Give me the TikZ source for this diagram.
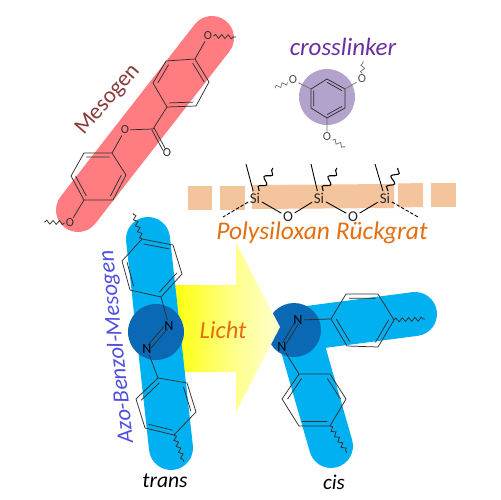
\documentclass[tikz,border=0pt]{standalone}
\usepackage{fontspec}
\setmainfont{Carlito}
\usetikzlibrary{calc,decorations.pathmorphing}
\definecolor{bandred}{HTML}{FF7C80}
\definecolor{bandblue}{HTML}{00B0F0}
\definecolor{darkblob}{HTML}{0A68B4}
\definecolor{purpleblob}{HTML}{B3A2CC}
\definecolor{backbone}{HTML}{F4C49C}
\definecolor{orangetxt}{HTML}{E56E10}
\definecolor{bond}{HTML}{2E2E2E}
\definecolor{mesotxt}{HTML}{8C3B3B}
\definecolor{crosstxt}{HTML}{6B2FA0}
\definecolor{azotxt}{HTML}{4F4FE0}
\tikzset{
  band/.style={line cap=round,line width=.88cm},
  bondline/.style={draw=bond,line width=.42pt},
  wavy/.style={draw=bond,line width=.42pt,decorate,decoration={snake,segment length=3.6pt,amplitude=1.1pt}},
  wavyb/.style={draw=black,line width=.6pt,decorate,decoration={snake,segment length=6.5pt,amplitude=1.9pt}},
  atom/.style={font=\fontsize{7}{7}\selectfont,text=bond,inner sep=.6pt},
  bigatom/.style={font=\fontsize{8.5}{8.5}\selectfont,text=black!85,inner sep=.8pt},
  lbl/.style={inner sep=0pt},
  bbpatch/.style={fill=backbone,draw=none}
}
% name, pattern (1 or 2), six vertices
\newcommand\molring[8]{%
  \coordinate (#1a) at #3; \coordinate (#1b) at #4; \coordinate (#1c) at #5;
  \coordinate (#1d) at #6; \coordinate (#1e) at #7; \coordinate (#1f) at #8;
  \coordinate (#1m) at ($(#1a)!.5!(#1d)$);
  \draw[bondline,line join=round] (#1a)--(#1b)--(#1c)--(#1d)--(#1e)--(#1f)--cycle;
  \ifnum#2=1
    \draw[bondline] ($(#1a)!.17!(#1m)$)--($(#1b)!.17!(#1m)$) ($(#1c)!.17!(#1m)$)--($(#1d)!.17!(#1m)$) ($(#1e)!.17!(#1m)$)--($(#1f)!.17!(#1m)$);
  \else
    \draw[bondline] ($(#1b)!.17!(#1m)$)--($(#1c)!.17!(#1m)$) ($(#1d)!.17!(#1m)$)--($(#1e)!.17!(#1m)$) ($(#1f)!.17!(#1m)$)--($(#1a)!.17!(#1m)$);
  \fi}
\begin{document}
\begin{tikzpicture}[x=.02cm,y=-.02cm]
\useasboundingbox (0,0) rectangle (500,500);
\fill[white] (0,0) rectangle (500,500);

% ---- Mesogen
\draw[band,bandred] (212,38) -- (78,210);
\molring{ma}{2}{(195,59)}{(166,61)}{(153,83)}{(167,107)}{(196,106)}{(209,82)}
\molring{mb}{1}{(112,153)}{(84,153)}{(71,176)}{(84,200)}{(113,200)}{(126,175)}
\node[atom] (mo1) at (208,36) {O};
\node[atom] (mo2) at (125,130) {O};
\node[atom] (mo3) at (167,153) {O};
\node[atom] (mo4) at (70,223) {O};
\coordinate (mc) at (153,129);
\coordinate (mw1) at (236,37);
\coordinate (mw2) at (44,222);
\draw[bondline] (maa)--(mo1) (mad)--(mc) (mc)--(mo2) (mo2)--(mba) (mbd)--(mo4);
\draw[bondline] ($(mc)+(1.2,-.8)$)--($(mo3)+(-1.5,-4)$) ($(mc)+(-1.2,.8)$)--($(mo3)+(-4,-2.5)$);
\draw[wavy] (mo1)--(mw1);
\draw[wavy] (mo4)--(mw2);
\node[lbl,text=mesotxt,rotate=49,font=\fontsize{13}{13}\selectfont] (tmes) at (108,100) {Mesogen};

% ---- crosslinker
\node[lbl,text=crosstxt,font=\fontsize{14.2}{14.2}\itshape\selectfont] (tcross) at (343,47) {crosslinker};
\fill[purpleblob] (327,97) circle (28);
\molring{ca}{1}{(327,79)}{(345,89)}{(345,108)}{(327,118)}{(311,108)}{(311,89)}
\node[atom,text=black!70] (co1) at (293,80) {O};
\node[atom,text=black!70] (co2) at (362,79) {O};
\node[atom,text=black!70] (co3) at (327,137) {O};
\coordinate (cw1) at (275,88);
\coordinate (cw2) at (363,61);
\coordinate (cw3) at (345,147);
\draw[bondline,black!55] (caf)--(co1) (cab)--(co2) (cad)--(co3);
\draw[wavy,black!55] (co1)--(cw1);
\draw[wavy,black!55] (co2)--(cw2);
\draw[wavy,black!55] (co3)--(cw3);

% ---- Polysiloxan backbone
\path[bbpatch] (188,186) -- (212,186) -- (212,209.5) -- (188,209.5) -- cycle;
\path[bbpatch] (220,186) -- (245,186) -- (245,209.5) -- (220,209.5) -- cycle;
\path[bbpatch] (252,185) -- (394,184) -- (394,208) -- (252,209) -- cycle;
\path[bbpatch] (398,183.5) -- (423,183) -- (423,207) -- (398,207.5) -- cycle;
\path[bbpatch] (431,183) -- (456,183) -- (456,207) -- (431,207) -- cycle;
\node[bigatom] (si1) at (255,198) {Si};
\node[bigatom] (si2) at (319,198) {Si};
\node[bigatom] (si3) at (385,198) {Si};
\node[bigatom] (so1) at (288,217) {O};
\node[bigatom] (so2) at (353,217) {O};
\coordinate (sm1) at (246,164);
\coordinate (sm2) at (311,164);
\coordinate (sm3) at (375,164);
\coordinate (sw1) at (273,168);
\coordinate (sw2) at (337,168);
\coordinate (sw3) at (398,168);
\coordinate (sd1) at (223,217);
\coordinate (sd2) at (418,217);
\draw[black,line width=.5pt] (si1)--(so1) (so1)--(si2) (si2)--(so2) (so2)--(si3);
\draw[black,line width=.5pt] (si1)--(sm1) (si2)--(sm2) (si3)--(sm3);
\draw[wavyb] (si1)--(sw1);
\draw[wavyb] (si2)--(sw2);
\draw[wavyb] (si3)--(sw3);
\draw[black,line width=.5pt,dash pattern=on 2pt off 1pt] (si1)--(sd1);
\draw[black,line width=.5pt,dash pattern=on 2pt off 1pt] (si3)--(sd2);
\node[lbl,text=orangetxt,font=\fontsize{14.5}{14.5}\itshape\selectfont] (tpoly) at (322,233) {Polysiloxan Rückgrat};

% ---- cis underlay
\draw[band,bandblue] (300,329) -- (415,314);
\draw[band,bandblue] (302,345) -- (331,446);
\fill[darkblob] (294,330) circle (27);

% ---- Arrow
\shade[left color=yellow!95!white,right color=yellow!18!white,middle color=yellow!50!white]
  (175,285) -- (236,285) -- (236,243) -- (280,327) -- (236,412) -- (236,372) -- (175,372) -- cycle;

% ---- trans
\draw[band,bandblue] (148,239) -- (171,448);
\fill[darkblob] (156,332) circle (28);
\molring{ta}{1}{(142,239)}{(173,245)}{(182,274)}{(161,297)}{(130,290)}{(122,261)}
\molring{tb}{2}{(158,378)}{(187,383)}{(196,412)}{(174,435)}{(145,428)}{(136,399)}
\node[atom,font=\fontsize{8}{8}\selectfont,text=black] (tn1) at (169,326) {N};
\node[atom,font=\fontsize{8}{8}\selectfont,text=black] (tn2) at (147,349) {N};
\coordinate (tw1) at (133,213);
\coordinate (tw2) at (184,462);
\draw[bondline] (tad)--(tn1) (tn2)--(tba);
\draw[bondline] ($(tn1)+(-1.5,3)$)--($(tn2)+(4,-1)$) ($(tn1)+(-5,.5)$)--($(tn2)+(1,-4)$);
\draw[wavy] (taa)--(tw1);
\draw[wavy] (tbd)--(tw2);
\node[lbl,text=azotxt,rotate=96,font=\fontsize{13}{13}\itshape\selectfont] (tazo) at (117,347) {Azo-Benzol-Mesogen};
\node[lbl,text=orangetxt,font=\fontsize{14}{14}\itshape\selectfont] (tlicht) at (223,330) {Licht};
\node[lbl,font=\fontsize{12.3}{12.3}\itshape\selectfont] (ttrans) at (165,481) {trans};

% ---- cis molecule
\molring{da}{2}{(331,319)}{(346,294)}{(378,294)}{(394,320)}{(378,347)}{(347,346)}
\molring{db}{2}{(299,374)}{(330,374)}{(346,399)}{(330,426)}{(299,426)}{(282,399)}
\node[atom,font=\fontsize{8}{8}\selectfont,text=black] (dn1) at (298,320) {N};
\node[atom,font=\fontsize{8}{8}\selectfont,text=black] (dn2) at (282,347) {N};
\coordinate (dw1) at (425,319);
\coordinate (dw2) at (347,453);
\draw[bondline] (dn1)--(daa) (dn2)--(dba);
\draw[bondline] ($(dn1)+(-3.5,3)$)--($(dn2)+(.5,-4)$) ($(dn1)+(.5,4)$)--($(dn2)+(4,-3)$);
\draw[wavy] (dad)--(dw1);
\draw[wavy] (dbd)--(dw2);
\node[lbl,font=\fontsize{12}{12}\itshape\selectfont] (tcis) at (334,482) {cis};
\end{tikzpicture}
\end{document}
